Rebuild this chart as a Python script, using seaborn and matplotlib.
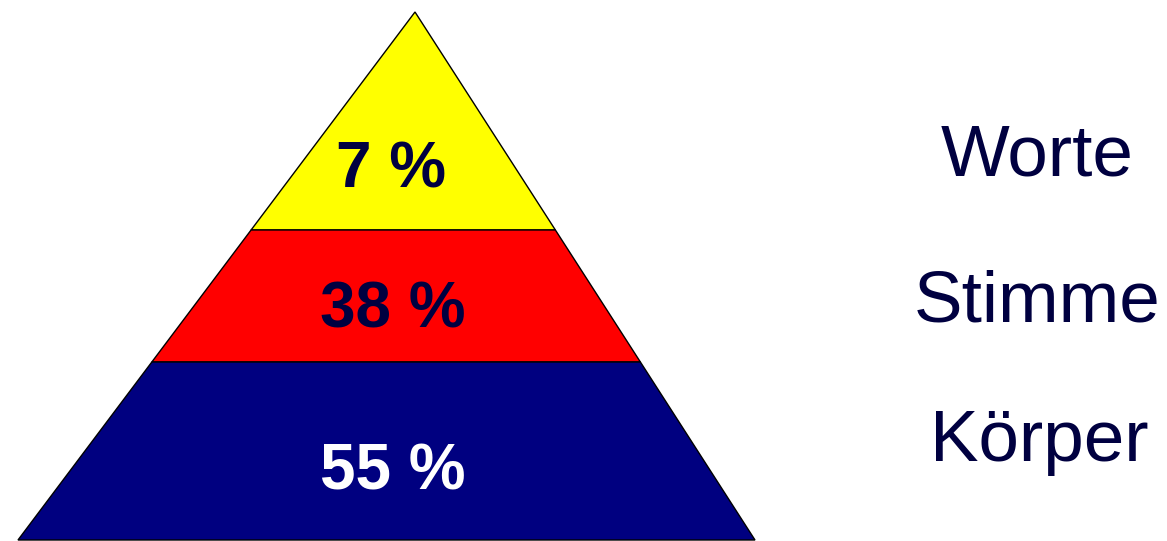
import matplotlib
matplotlib.use("Agg")
import matplotlib.pyplot as plt
import seaborn as sns

# ---- data ----
categories = ["Worte", "Stimme", "Körper"]
percentages = [7, 38, 55]
band_colors = ["#FFFF00", "#FF0000", "#000080"]
pct_text_colors = ["#000040", "#000040", "#FFFFFF"]

# ---- layout (pixel coordinates) ----
W, H = 1167, 541
apex = (415, 12)
base_left, base_right, base_y = 18, 755, 540
band_edges_y = [12, 230, 362, 540]
pct_pos = [(391, 188), (393, 328), (393, 489)]
cat_pos = [(1037, 176), (1037, 321), (1039, 461)]

sns.set_style("white")
plt.rcParams["font.family"] = ["Liberation Sans", "DejaVu Sans"]

fig = plt.figure(figsize=(W / 100, H / 100), dpi=100)
ax = fig.add_axes([0, 0, 1, 1])
ax.set_xlim(0, W)
ax.set_ylim(H, 0)
ax.axis("off")


def left_x(y):
    return apex[0] - (y - apex[1]) / (base_y - apex[1]) * (apex[0] - base_left)


def right_x(y):
    return apex[0] + (y - apex[1]) / (base_y - apex[1]) * (base_right - apex[0])


for i in range(3):
    y0, y1 = band_edges_y[i], band_edges_y[i + 1]
    xs = [left_x(y0), right_x(y0), right_x(y1), left_x(y1)]
    ys = [y0, y0, y1, y1]
    ax.fill(xs, ys, facecolor=band_colors[i], edgecolor="black", linewidth=1.0,
            joinstyle="miter")

for p, (x, y), c in zip(percentages, pct_pos, pct_text_colors):
    ax.text(x, y, f"{p} %", ha="center", va="baseline", fontsize=46,
            fontweight="bold", color=c)

for cat, (x, y) in zip(categories, cat_pos):
    ax.text(x, y, cat, ha="center", va="baseline", fontsize=52.5, color="#000040")

fig.savefig("out.png", dpi=100, facecolor="white")
